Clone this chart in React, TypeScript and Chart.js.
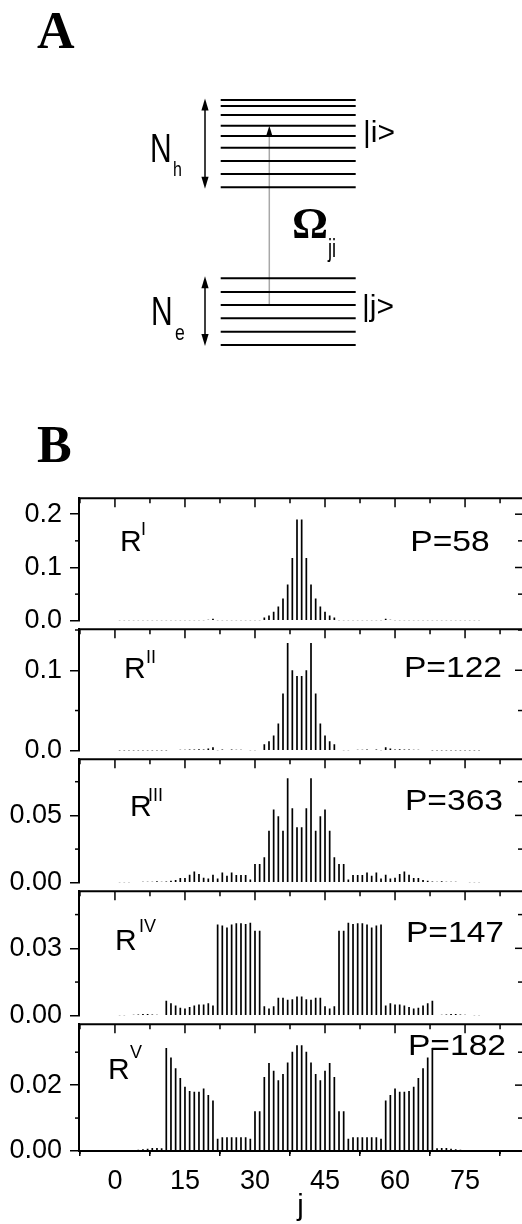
import React, { useEffect, useRef } from 'react';
import { Chart, registerables } from 'chart.js';

Chart.register(...registerables);

// ---------------- data ----------------
const stateIndex = [
  1, 2, 3, 4, 5, 6, 7, 8, 9, 10, 11, 12, 13, 14, 15, 16, 17, 18, 19, 20,
  21, 22, 23, 24, 25, 26, 27, 28, 29, 30, 31, 32, 33, 34, 35, 36, 37, 38, 39, 40,
  41, 42, 43, 44, 45, 46, 47, 48, 49, 50, 51, 52, 53, 54, 55, 56, 57, 58, 59, 60,
  61, 62, 63, 64, 65, 66, 67, 68, 69, 70, 71, 72, 73, 74, 75, 76, 77, 78,
];

const seriesRI = [
  0.0008, 0.0008, 0.0008, 0.0008, 0.0008, 0.0008, 0.0008, 0.0008, 0.0008, 0.0008,
  0.0008, 0.0008, 0.0008, 0.0008, 0.0008, 0.0008, 0.0008, 0.0008, 0.0012, 0.002,
  0.004, 0.0008, 0.0008, 0.0008, 0.0008, 0.0008, 0.0008, 0.0008, 0.0008, 0.0008,
  0.0008, 0.0063, 0.010, 0.017, 0.027, 0.042, 0.068, 0.118, 0.190, 0.190,
  0.118, 0.068, 0.042, 0.027, 0.017, 0.010, 0.0063, 0.0008, 0.0008, 0.0008,
  0.0008, 0.0008, 0.0008, 0.0008, 0.0008, 0.0008, 0.0008, 0.004, 0.002, 0.0012,
  0.0008, 0.0008, 0.0008, 0.0008, 0.0008, 0.0008, 0.0008, 0.0008, 0.0008, 0.0008,
  0.0008, 0.0008, 0.0008, 0.0008, 0.0008, 0.0008, 0.0008, 0.0008,
];

const seriesRII = [
  0.0005, 0.0005, 0.0005, 0.0005, 0.0005, 0.0005, 0.0005, 0.0005, 0.0005, 0.0005,
  0.0005, 0.001, 0.001, 0.0012, 0.0012, 0.0015, 0.0015, 0.002, 0.0015, 0.003,
  0.0045, 0.0008, 0.0015, 0.001, 0.0015, 0.0012, 0.0012, 0.001, 0.0008, 0.0008,
  0.001, 0.008, 0.012, 0.019, 0.034, 0.071, 0.134, 0.100, 0.093, 0.093,
  0.100, 0.134, 0.071, 0.034, 0.019, 0.012, 0.008, 0.001, 0.0008, 0.0008,
  0.001, 0.0012, 0.0012, 0.0015, 0.001, 0.0015, 0.0008, 0.0045, 0.003, 0.0015,
  0.002, 0.0015, 0.0015, 0.0012, 0.0012, 0.001, 0.001, 0.0005, 0.0005, 0.0005,
  0.0005, 0.0005, 0.0005, 0.0005, 0.0005, 0.0005, 0.0005, 0.0005,
];

const seriesRIII = [
  0.0004, 0.0005, 0.0005, 0.0006, 0.0006, 0.0007, 0.0008, 0.0008, 0.0012, 0.0008,
  0.0009, 0.0015, 0.002, 0.0035, 0.0035, 0.006, 0.0083, 0.0065, 0.0037, 0.0032,
  0.006, 0.0032, 0.0076, 0.0053, 0.0076, 0.0058, 0.0058, 0.0058, 0.0025, 0.014,
  0.014, 0.019, 0.0387, 0.0544, 0.0493, 0.0387, 0.0775, 0.0553, 0.0412, 0.0412,
  0.0553, 0.0775, 0.0387, 0.0493, 0.0544, 0.0387, 0.019, 0.014, 0.014, 0.0025,
  0.0058, 0.0058, 0.0058, 0.0076, 0.0053, 0.0076, 0.0032, 0.006, 0.0032, 0.0037,
  0.0065, 0.0083, 0.006, 0.0035, 0.0035, 0.002, 0.0015, 0.0009, 0.0008, 0.0012,
  0.0008, 0.0008, 0.0007, 0.0006, 0.0006, 0.0005, 0.0005, 0.0004,
];

const seriesRIV = [
  0.0003, 0.0003, 0.0004, 0.0005, 0.0006, 0.0008, 0.0008, 0.0006, 0.0005, 0.0004,
  0.0067, 0.0056, 0.0046, 0.0036, 0.0032, 0.0039, 0.0046, 0.005, 0.005, 0.0056,
  0.0046, 0.0406, 0.0401, 0.0393, 0.0406, 0.0412, 0.0412, 0.0408, 0.0414, 0.0378,
  0.0378, 0.0042, 0.0033, 0.0042, 0.008, 0.008, 0.0071, 0.0074, 0.0086, 0.0086,
  0.0074, 0.0071, 0.008, 0.008, 0.0042, 0.0033, 0.0042, 0.0378, 0.0378, 0.0414,
  0.0408, 0.0412, 0.0412, 0.0406, 0.0393, 0.0401, 0.0406, 0.0046, 0.0056, 0.005,
  0.005, 0.0046, 0.0039, 0.0032, 0.0036, 0.0046, 0.0056, 0.0067, 0.0004, 0.0005,
  0.0006, 0.0008, 0.0008, 0.0006, 0.0005, 0.0004, 0.0003, 0.0003,
];

const seriesRV = [
  0.0002, 0.0002, 0.0003, 0.0003, 0.0004, 0.0005, 0.0007, 0.0009, 0.0009, 0.0008,
  0.0313, 0.0284, 0.0251, 0.0222, 0.0195, 0.0182, 0.018, 0.018, 0.019, 0.017,
  0.0153, 0.0037, 0.0042, 0.0042, 0.0042, 0.0042, 0.0042, 0.0042, 0.0037, 0.0121,
  0.0121, 0.0225, 0.0267, 0.0244, 0.0215, 0.0234, 0.0269, 0.0301, 0.0321, 0.0321,
  0.0301, 0.0269, 0.0234, 0.0215, 0.0244, 0.0267, 0.0225, 0.0121, 0.0121, 0.0037,
  0.0042, 0.0042, 0.0042, 0.0042, 0.0042, 0.0042, 0.0037, 0.0153, 0.017, 0.019,
  0.018, 0.018, 0.0182, 0.0195, 0.0222, 0.0251, 0.0284, 0.0313, 0.0008, 0.0009,
  0.0009, 0.0007, 0.0005, 0.0004, 0.0003, 0.0003, 0.0002, 0.0002,
];

const allSeries = [seriesRI, seriesRII, seriesRIII, seriesRIV, seriesRV];
const panelNumerals = ['I', 'II', 'III', 'IV', 'V'];
const panelP = [58, 122, 363, 147, 182];

const yMaxes = [0.23, 0.151, 0.0917, 0.0554, 0.0385];
const yMajorTicks = [[0, 0.1, 0.2], [0, 0.1], [0, 0.05], [0, 0.03], [0, 0.02]];
const yMinorTicks = [[0.05, 0.15], [0.05, 0.15], [0.025, 0.075], [0.015, 0.045], [0.01, 0.03]];
const yDecimals = [1, 1, 2, 2, 2];
const xMajorTicks = [0, 15, 30, 45, 60, 75];
const xMinorTicks = [-7.5, 7.5, 22.5, 37.5, 52.5, 67.5, 82.5];
const xRange = [-7.7, 87.2];
const xTitle = 'j';

// diagram (panel A) level energies, in diagram units
const upperLevels = [100, 106, 115, 125.7, 136, 147.7, 161, 174, 187.3];
const lowerLevels = [278.3, 292, 305, 318.3, 331.7, 345];

// ---------------- layout / style ----------------
const SANS = "'Liberation Sans', Arial, Helvetica, sans-serif";
const SERIF = "'Liberation Serif', 'Times New Roman', serif";
const PAGE_W = 522;
const PAGE_H = 1224;
const PANEL_TOPS = [494, 625, 755, 887, 1020];
const PANEL_BOTTOMS = [625, 755, 887, 1020, 1151];
const PAD_TOP = 20;
const PAD_BOTTOM = 20;
const X_AXIS_H = 73;
const Y_AXIS_W = 79;
const DIAGRAM_H = 474;
const TICK_FONT = 27;

const rLabelPos = [
  { x: 120, y: 551, sx: 141, sy: 535 },
  { x: 124, y: 678, sx: 146, sy: 663 },
  { x: 130, y: 816, sx: 148, sy: 801 },
  { x: 115, y: 950, sx: 139, sy: 932 },
  { x: 108, y: 1079, sx: 130, sy: 1058 },
];
const pLabelPos = [
  { cx: 450, y: 551 },
  { cx: 453, y: 677 },
  { cx: 454, y: 810 },
  { cx: 455, y: 942 },
  { cx: 457, y: 1055 },
];

function seg(ctx: CanvasRenderingContext2D, x1: number, y1: number, x2: number, y2: number) {
  ctx.beginPath();
  ctx.moveTo(x1, y1);
  ctx.lineTo(x2, y2);
  ctx.stroke();
}

function text(
  ctx: CanvasRenderingContext2D,
  s: string,
  x: number,
  y: number,
  font: string,
  sx = 1,
  align: CanvasTextAlign = 'left'
) {
  ctx.save();
  ctx.font = font;
  ctx.fillStyle = '#000';
  ctx.textBaseline = 'alphabetic';
  ctx.textAlign = align;
  ctx.translate(x, y);
  ctx.scale(sx, 1);
  ctx.fillText(s, 0, 0);
  ctx.restore();
}

function makePanelDecor(idx: number, canvasTop: number) {
  const isLast = idx === 4;
  return {
    id: 'panelDecor' + idx,
    afterDatasetsDraw(chart: any) {
      const { ctx, chartArea: a } = chart;
      const xs = chart.scales.x;
      const ys = chart.scales.y;
      ctx.save();
      ctx.strokeStyle = '#000';
      ctx.lineWidth = 2;
      seg(ctx, a.left - 1, a.top, a.right + 2, a.top);
      ctx.lineWidth = 1.5;
      xMajorTicks.forEach((v) => {
        const px = xs.getPixelForValue(v);
        seg(ctx, px, a.top, px, a.top + 9);
      });
      xMinorTicks.forEach((v) => {
        const px = xs.getPixelForValue(v);
        seg(ctx, px, a.top, px, a.top + 5);
      });
      yMinorTicks[idx].forEach((v) => {
        if (v > yMaxes[idx]) return;
        const py = ys.getPixelForValue(v);
        seg(ctx, a.left - 4, py, a.left, py);
        seg(ctx, a.right - 4, py, a.right, py);
      });
      yMajorTicks[idx].forEach((v) => {
        if (v === 0) return;
        const py = ys.getPixelForValue(v);
        seg(ctx, a.right - 7, py, a.right, py);
      });
      if (isLast) {
        xMinorTicks.forEach((v) => {
          const px = xs.getPixelForValue(v);
          seg(ctx, px, a.bottom, px, a.bottom + 3);
        });
      }
      const r = rLabelPos[idx];
      text(ctx, 'R', r.x, r.y - canvasTop, `30px ${SANS}`);
      text(ctx, panelNumerals[idx], r.sx, r.sy - canvasTop, `18px ${SANS}`);
      const p = pLabelPos[idx];
      text(ctx, 'P=' + panelP[idx], p.cx, p.y - canvasTop, `30px ${SANS}`, 1.12, 'center');
      ctx.restore();
    },
  };
}

function Panel({ idx }: { idx: number }) {
  const ref = useRef<HTMLCanvasElement>(null);
  const isLast = idx === 4;
  const top = PANEL_TOPS[idx];
  const bottom = PANEL_BOTTOMS[idx];
  const canvasTop = top - PAD_TOP;
  const height = bottom - top + PAD_TOP + (isLast ? X_AXIS_H : PAD_BOTTOM);

  useEffect(() => {
    if (!ref.current) return;
    const values = allSeries[idx];
    const chart = new Chart(ref.current, {
      type: 'bar',
      data: {
        datasets: [
          {
            data: stateIndex.map((j, i) => ({ x: j, y: values[i] })),
            backgroundColor: '#000',
            borderWidth: 0,
            barThickness: 1.7,
            inflateAmount: 0,
          } as any,
        ],
      },
      options: {
        animation: false,
        responsive: false,
        maintainAspectRatio: false,
        events: [],
        layout: {
          autoPadding: false,
          padding: { top: PAD_TOP, bottom: isLast ? 0 : PAD_BOTTOM, left: 0, right: 0 },
        },
        plugins: { legend: { display: false }, tooltip: { enabled: false } },
        scales: {
          x: {
            type: 'linear',
            min: xRange[0],
            max: xRange[1],
            offset: false,
            display: isLast,
            position: 'bottom',
            afterBuildTicks: (s: any) => {
              s.ticks = xMajorTicks.map((v) => ({ value: v }));
            },
            afterFit: (s: any) => {
              if (isLast) s.height = X_AXIS_H;
            },
            grid: {
              drawOnChartArea: false,
              drawTicks: true,
              tickLength: 5,
              color: '#000',
              tickColor: '#000',
              lineWidth: 1.5,
              tickWidth: 1.5,
            },
            border: { display: true, color: '#000', width: 2 },
            ticks: {
              color: '#000',
              font: { family: SANS, size: TICK_FONT },
              padding: 9,
              maxRotation: 0,
              autoSkip: false,
              callback: (v: any) => String(v),
            },
            title: {
              display: true,
              text: xTitle,
              color: '#000',
              font: { family: SANS, size: 29 },
              padding: 0,
            },
          } as any,
          y: {
            type: 'linear',
            min: 0,
            max: yMaxes[idx],
            position: 'left',
            afterBuildTicks: (s: any) => {
              s.ticks = yMajorTicks[idx].map((v) => ({ value: v }));
            },
            afterFit: (s: any) => {
              s.width = Y_AXIS_W;
            },
            grid: {
              drawOnChartArea: false,
              drawTicks: true,
              tickLength: 9,
              color: '#000',
              tickColor: '#000',
              lineWidth: 1.5,
              tickWidth: 1.5,
            },
            border: { display: true, color: '#000', width: 2 },
            ticks: {
              color: '#000',
              font: { family: SANS, size: TICK_FONT },
              padding: 8,
              callback: (v: any) => Number(v).toFixed(yDecimals[idx]),
            },
          } as any,
        },
      },
      plugins: [makePanelDecor(idx, canvasTop)],
    });
    return () => chart.destroy();
  }, [idx]);

  return (
    <canvas
      ref={ref}
      width={PAGE_W}
      height={height}
      style={{ position: 'absolute', left: 0, top: canvasTop, width: PAGE_W, height }}
    />
  );
}

const diagramDecor = {
  id: 'diagramDecor',
  afterDatasetsDraw(chart: any) {
    const { ctx } = chart;
    const xs = chart.scales.x;
    const ys = chart.scales.y;
    const X = (v: number) => xs.getPixelForValue(v);
    const Y = (v: number) => ys.getPixelForValue(v);
    ctx.save();
    ctx.fillStyle = '#000';
    const head = (x: number, tipY: number, dir: number, len = 12, hw = 3.6) => {
      ctx.beginPath();
      ctx.moveTo(X(x), Y(tipY));
      ctx.lineTo(X(x) - hw, Y(tipY) + dir * len);
      ctx.lineTo(X(x) + hw, Y(tipY) + dir * len);
      ctx.closePath();
      ctx.fill();
    };
    const upTop = upperLevels[0] - 1.5;
    const upBot = upperLevels[upperLevels.length - 1] + 1.5;
    const loTop = lowerLevels[0] - 2;
    const loBot = lowerLevels[lowerLevels.length - 1] + 1;
    head(205, upTop, 1);
    head(205, upBot, -1);
    head(205, loTop, 1);
    head(205, loBot, -1);
    head(269.3, upperLevels[3], 1, 11, 3.4);

    text(ctx, 'A', X(37), Y(48), `bold 52px ${SERIF}`);
    text(ctx, 'B', X(37), Y(462), `bold 52px ${SERIF}`);
    text(ctx, 'N', X(150), Y(162), `40px ${SANS}`, 0.75);
    text(ctx, 'h', X(173), Y(176), `20px ${SANS}`, 0.8);
    text(ctx, 'N', X(151), Y(325), `40px ${SANS}`, 0.75);
    text(ctx, 'e', X(175), Y(340), `22px ${SANS}`, 0.8);
    text(ctx, '|i>', X(363), Y(142), `30px ${SANS}`, 1);
    text(ctx, '|j>', X(362), Y(316), `30px ${SANS}`, 1);
    text(ctx, 'Ω', X(292), Y(238), `bold 45px ${SERIF}`);
    text(ctx, 'ji', X(328), Y(257), `26px ${SANS}`, 0.7);
    ctx.restore();
  },
};

function Diagram() {
  const ref = useRef<HTMLCanvasElement>(null);
  useEffect(() => {
    if (!ref.current) return;
    const segDs = (x1: number, y1: number, x2: number, y2: number, color: string, w: number) => ({
      data: [
        { x: x1, y: y1 },
        { x: x2, y: y2 },
      ],
      showLine: true,
      borderColor: color,
      borderWidth: w,
      pointRadius: 0,
      fill: false,
    });
    const datasets: any[] = [];
    upperLevels.forEach((e) => datasets.push(segDs(220.7, e, 355.7, e, '#000', 2)));
    lowerLevels.forEach((e) => datasets.push(segDs(220.7, e, 355.7, e, '#000', 2)));
    datasets.push(
      segDs(205, upperLevels[0] + 6, 205, upperLevels[upperLevels.length - 1] - 5, '#000', 1.5)
    );
    datasets.push(
      segDs(205, lowerLevels[0] + 5, 205, lowerLevels[lowerLevels.length - 1] - 6, '#000', 1.5)
    );
    datasets.push(segDs(269.3, lowerLevels[2], 269.3, upperLevels[3] + 9, '#a8a8a8', 1.5));

    const chart = new Chart(ref.current, {
      type: 'scatter',
      data: { datasets },
      options: {
        animation: false,
        responsive: false,
        maintainAspectRatio: false,
        events: [],
        layout: { autoPadding: false, padding: 0 },
        plugins: { legend: { display: false }, tooltip: { enabled: false } },
        scales: {
          x: { type: 'linear', min: 0, max: PAGE_W, display: false },
          y: { type: 'linear', min: 0, max: DIAGRAM_H, reverse: true, display: false },
        },
      } as any,
      plugins: [diagramDecor],
    });
    return () => chart.destroy();
  }, []);
  return (
    <canvas
      ref={ref}
      width={PAGE_W}
      height={DIAGRAM_H}
      style={{ position: 'absolute', left: 0, top: 0, width: PAGE_W, height: DIAGRAM_H }}
    />
  );
}

export default function App() {
  return (
    <div
      style={{
        position: 'absolute',
        left: 0,
        top: 0,
        width: PAGE_W,
        height: PAGE_H,
        background: '#fff',
        overflow: 'hidden',
      }}
    >
      <Diagram />
      {[0, 1, 2, 3, 4].map((i) => (
        <Panel key={i} idx={i} />
      ))}
    </div>
  );
}
